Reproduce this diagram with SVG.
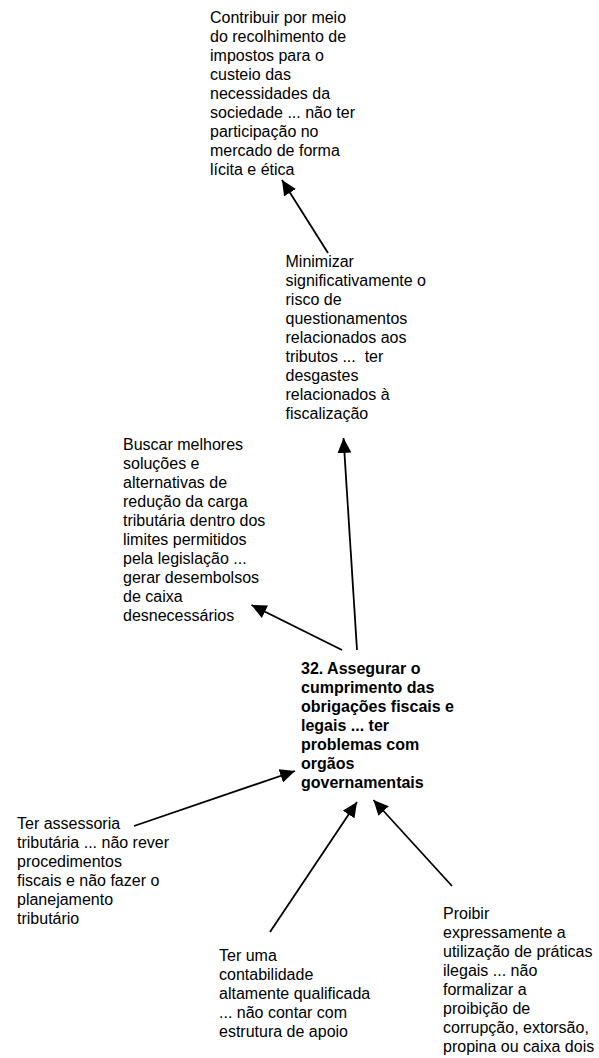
<svg xmlns="http://www.w3.org/2000/svg" width="599" height="1058" viewBox="0 0 599 1058">
  <style>
    .lbl { font-family: "Liberation Sans", Arial, sans-serif; font-size: 16px; fill: #000; }
    .main { font-weight: bold; }
    .edge { fill: none; stroke: #000; stroke-width: 1.8; marker-end: url(#head); }
  </style>
  <defs>
    <marker id="head" viewBox="0 0 15 14" refX="15" refY="7" markerWidth="15" markerHeight="14" markerUnits="userSpaceOnUse" orient="auto">
      <path d="M0,0 L15,7 L0,14 z" fill="#000"/>
    </marker>
  </defs>
  <rect width="599" height="1058" fill="#fff"/>

  <!-- arrows between the concepts -->
  <g id="connectors">
    <path class="edge" d="M328,253 L282,180"/>
    <path class="edge" d="M357,650 L343.5,438"/>
    <path class="edge" d="M342,650 L251.5,605"/>
    <path class="edge" d="M134,826 L295,771"/>
    <path class="edge" d="M270,932 L357,802"/>
    <path class="edge" d="M452,886 L373.5,800"/>
  </g>

  <g id="n-contribuir">
    <text class="lbl" x="210" y="22.5">
      <tspan x="210" dy="0">Contribuir por meio</tspan>
      <tspan x="210" dy="19">do recolhimento de</tspan>
      <tspan x="210" dy="19">impostos para o</tspan>
      <tspan x="210" dy="19">custeio das</tspan>
      <tspan x="210" dy="19">necessidades da</tspan>
      <tspan x="210" dy="19">sociedade ... não ter</tspan>
      <tspan x="210" dy="19">participação no</tspan>
      <tspan x="210" dy="19">mercado de forma</tspan>
      <tspan x="210" dy="19">lícita e ética</tspan>
    </text>
  </g>

  <g id="n-minimizar">
    <text class="lbl" x="285.5" y="267">
      <tspan x="285.5" dy="0">Minimizar</tspan>
      <tspan x="285.5" dy="19">significativamente o</tspan>
      <tspan x="285.5" dy="19">risco de</tspan>
      <tspan x="285.5" dy="19">questionamentos</tspan>
      <tspan x="285.5" dy="19">relacionados aos</tspan>
      <tspan x="285.5" dy="19" style="white-space:pre">tributos ...  ter</tspan>
      <tspan x="285.5" dy="19">desgastes</tspan>
      <tspan x="285.5" dy="19">relacionados à</tspan>
      <tspan x="285.5" dy="19">fiscalização</tspan>
    </text>
  </g>

  <g id="n-buscar">
    <text class="lbl" x="123" y="450">
      <tspan x="123" dy="0">Buscar melhores</tspan>
      <tspan x="123" dy="19">soluções e</tspan>
      <tspan x="123" dy="19">alternativas de</tspan>
      <tspan x="123" dy="19">redução da carga</tspan>
      <tspan x="123" dy="19">tributária dentro dos</tspan>
      <tspan x="123" dy="19">limites permitidos</tspan>
      <tspan x="123" dy="19">pela legislação ...</tspan>
      <tspan x="123" dy="19">gerar desembolsos</tspan>
      <tspan x="123" dy="19">de caixa</tspan>
      <tspan x="123" dy="19">desnecessários</tspan>
    </text>
  </g>

  <g id="n-assegurar">
    <text class="lbl main" x="301" y="674">
      <tspan x="301" dy="0">32. Assegurar o</tspan>
      <tspan x="301" dy="19">cumprimento das</tspan>
      <tspan x="301" dy="19">obrigações fiscais e</tspan>
      <tspan x="301" dy="19">legais ... ter</tspan>
      <tspan x="301" dy="19">problemas com</tspan>
      <tspan x="301" dy="19">orgãos</tspan>
      <tspan x="301" dy="19">governamentais</tspan>
    </text>
  </g>

  <g id="n-assessoria">
    <text class="lbl" x="17" y="829">
      <tspan x="17" dy="0">Ter assessoria</tspan>
      <tspan x="17" dy="19">tributária ... não rever</tspan>
      <tspan x="17" dy="19">procedimentos</tspan>
      <tspan x="17" dy="19">fiscais e não fazer o</tspan>
      <tspan x="17" dy="19">planejamento</tspan>
      <tspan x="17" dy="19">tributário</tspan>
    </text>
  </g>

  <g id="n-contabilidade">
    <text class="lbl" x="219" y="961">
      <tspan x="219" dy="0">Ter uma</tspan>
      <tspan x="219" dy="19">contabilidade</tspan>
      <tspan x="219" dy="19">altamente qualificada</tspan>
      <tspan x="219" dy="19">... não contar com</tspan>
      <tspan x="219" dy="19">estrutura de apoio</tspan>
    </text>
  </g>

  <g id="n-proibir">
    <text class="lbl" x="443" y="919">
      <tspan x="443" dy="0">Proibir</tspan>
      <tspan x="443" dy="19">expressamente a</tspan>
      <tspan x="443" dy="19">utilização de práticas</tspan>
      <tspan x="443" dy="19">ilegais ... não</tspan>
      <tspan x="443" dy="19">formalizar a</tspan>
      <tspan x="443" dy="19">proibição de</tspan>
      <tspan x="443" dy="19">corrupção, extorsão,</tspan>
      <tspan x="443" dy="19">propina ou caixa dois</tspan>
    </text>
  </g>
</svg>
